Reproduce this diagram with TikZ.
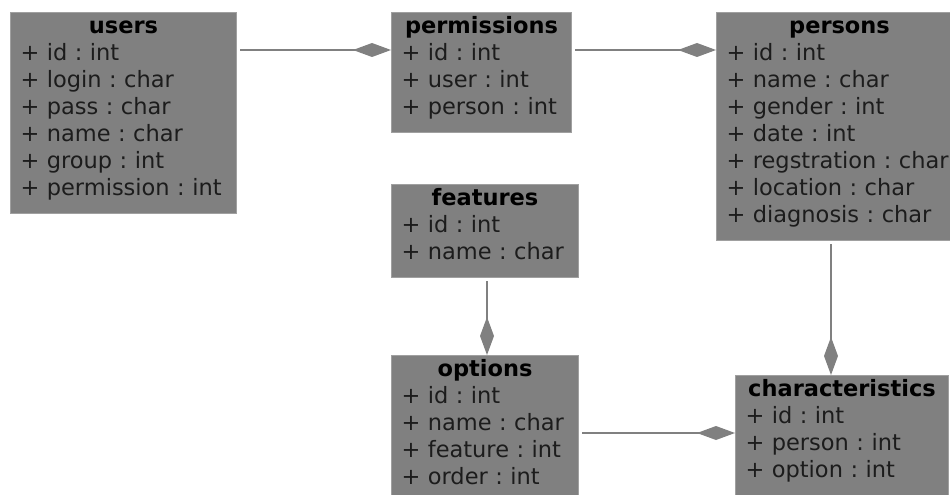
\documentclass[tikz,border=0pt]{standalone}
\usepackage{fontspec}
\setmainfont{DejaVu Sans}
\usepackage{tikz}
\usetikzlibrary{arrows.meta}
\usetikzlibrary{positioning}
\definecolor{boxgray}{RGB}{128,128,128}
\definecolor{edgegray}{RGB}{160,160,160}
\definecolor{linkgray}{RGB}{128,128,128}
\definecolor{rowtext}{RGB}{28,28,28}
\frenchspacing
\tikzstyle{table}=[draw=edgegray, fill=boxgray, line width=1pt, anchor=north west,
               inner xsep=10pt, inner ysep=0pt, align=left, text=rowtext,
               font=\fontsize{22.5}{27}\selectfont,
               execute at end node={\rule[-18pt]{0pt}{18pt}}]
\tikzstyle{link}=[draw=linkgray, line width=1.8pt, shorten <=3pt,
               -{Diamond[length=38pt,width=14pt]}]
\newcommand{\tabtitle}[1]{\rule{0pt}{21pt}\makebox[\hsize]{\bfseries\color{black}#1}}

\begin{document}
\begin{tikzpicture}[x=1pt,y=-1pt]
\useasboundingbox (0,0) rectangle (950,495);
\clip (0,0) rectangle (950,495);

% tables
\node[table, text width=206pt] at (10,12) (users) {\tabtitle{users}\\
  + id : int\\ + login : char\\ + pass : char\\ + name : char\\
  + group : int\\ + permission : int};
\node[table, text width=160pt] at (391,12) (perm) {\tabtitle{permissions}\\
  + id : int\\ + user : int\\ + person : int};
\node[table, text width=226pt] at (716,12) (pers) {\tabtitle{persons}\\
  + id : int\\ + name : char\\ + gender : int\\ + date : int\\
  + regstration : char\\ + location : char\\ + diagnosis : char};
\node[table, text width=167pt] at (391,184) (feat) {\tabtitle{features}\\
  + id : int\\ + name : char};
\node[table, text width=167pt] at (391,355) (opt) {\tabtitle{options}\\
  + id : int\\ + name : char\\ + feature : int\\ + order : int};
\node[table, text width=193pt] at (735,375) (chr) {\tabtitle{characteristics}\\
  + id : int\\ + person : int\\ + option : int};

% links
\draw[link] ([yshift=-38pt]users.north east) -- ([yshift=-38pt]perm.north west);
\draw[link] ([yshift=-38pt]perm.north east) -- ([yshift=-38pt]pers.north west);
\draw[link] ([xshift=2pt]feat.south) -- ([xshift=2pt]opt.north);
\draw[link] ([xshift=115pt]pers.south west) -- ([xshift=115pt]pers.south west |- chr.north);
\draw[link] ([yshift=-4pt]opt.east) -- ([yshift=-4pt]opt.east -| chr.west);
\end{tikzpicture}
\end{document}
